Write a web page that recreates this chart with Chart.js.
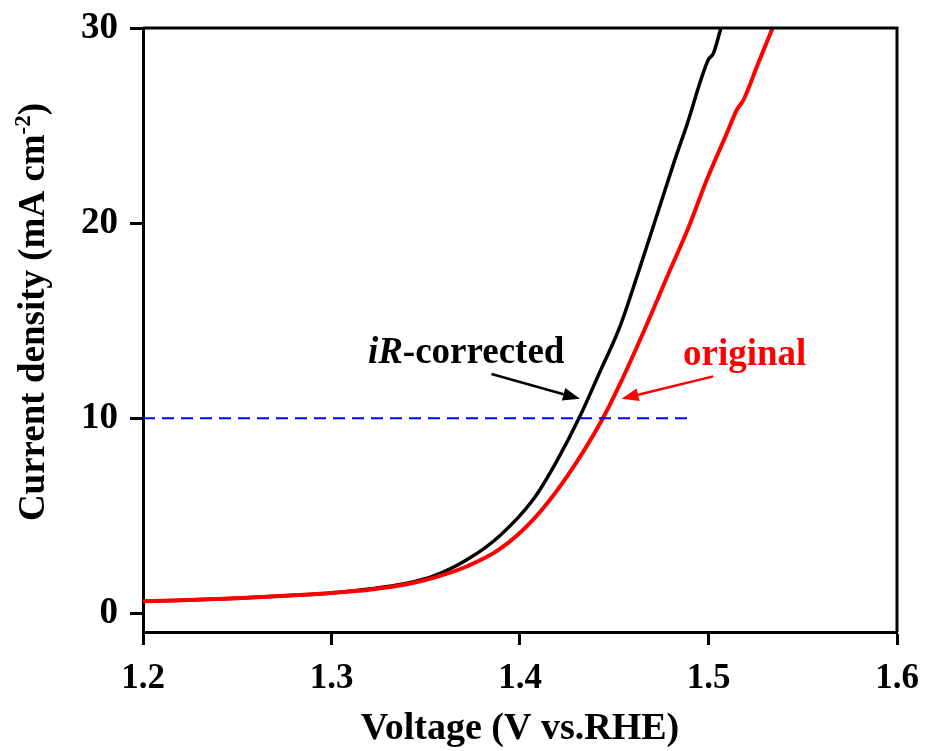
<!DOCTYPE html>
<html>
<head>
<meta charset="utf-8">
<script src="https://cdn.jsdelivr.net/npm/chart.js@4.4.1/dist/chart.umd.min.js"></script>
<style>
  html, body { margin: 0; padding: 0; background: #fff; }
  canvas { display: block; }
</style>
</head>
<body>
<canvas id="myChart" width="927" height="751"></canvas>
<script>
// iR-corrected curve (black)
const voltageCorrected = [1.2, 1.25, 1.283, 1.30, 1.32, 1.34, 1.354, 1.372, 1.389, 1.407, 1.419, 1.4318, 1.442, 1.453, 1.4625, 1.4707, 1.4813, 1.4884, 1.4999, 1.5026, 1.5066];
const currentCorrected = [0.62, 0.78, 0.94, 1.05, 1.25, 1.55, 1.91, 2.76, 3.96, 5.84, 7.72, 10.1, 12.3, 14.7, 17.4, 19.83, 23.0, 25.0, 28.37, 28.7, 30.0];
// original curve (red)
const voltageOriginal = [1.2, 1.25, 1.283, 1.30, 1.32, 1.34, 1.355, 1.372, 1.389, 1.407, 1.425, 1.4434, 1.453, 1.4654, 1.4796, 1.4893, 1.499, 1.5097, 1.515, 1.5185, 1.526, 1.534];
const currentOriginal = [0.62, 0.78, 0.94, 1.05, 1.22, 1.5, 1.85, 2.42, 3.28, 4.81, 7.03, 9.9, 11.75, 14.4, 17.6, 19.75, 22.2, 24.6, 25.8, 26.3, 28.1, 30.0];
// 10 mA cm-2 reference line
const refVoltage = [1.2, 1.49];
const refCurrent = [10, 10];

const xTicks = [1.2, 1.3, 1.4, 1.5, 1.6];
const yTicks = [0, 10, 20, 30];

const toPoints = (xs, ys) => xs.map((x, i) => ({ x: x, y: ys[i] }));

const FONT = "'Liberation Serif', 'Times New Roman', serif";

function arrow(ctx, x1, y1, x2, y2, color) {
  const ang = Math.atan2(y2 - y1, x2 - x1);
  const head = 17, half = 6.5;
  ctx.save();
  ctx.strokeStyle = color;
  ctx.fillStyle = color;
  ctx.lineWidth = 2.5;
  ctx.beginPath();
  ctx.moveTo(x1, y1);
  ctx.lineTo(x2 - head * Math.cos(ang), y2 - head * Math.sin(ang));
  ctx.stroke();
  ctx.beginPath();
  ctx.moveTo(x2, y2);
  ctx.lineTo(x2 - head * Math.cos(ang) + half * Math.sin(ang), y2 - head * Math.sin(ang) - half * Math.cos(ang));
  ctx.lineTo(x2 - head * Math.cos(ang) - half * Math.sin(ang), y2 - head * Math.sin(ang) + half * Math.cos(ang));
  ctx.closePath();
  ctx.fill();
  ctx.restore();
}

const decor = {
  id: "decor",
  afterDatasetsDraw(chart) {
    const ctx = chart.ctx;
    const a = chart.chartArea;
    const xs = chart.scales.x, ys = chart.scales.y;
    // frame top and right
    ctx.save();
    ctx.strokeStyle = "#000";
    ctx.lineWidth = 3;
    ctx.beginPath();
    ctx.moveTo(a.left, a.top);
    ctx.lineTo(a.right, a.top);
    ctx.lineTo(a.right, a.bottom);
    ctx.stroke();
    ctx.restore();

    // annotations
    ctx.save();
    ctx.textBaseline = "alphabetic";
    ctx.textAlign = "left";
    const tx = xs.getPixelForValue(1.3193), ty = ys.getPixelForValue(12.85);
    ctx.fillStyle = "#000";
    ctx.font = "italic bold 37px " + FONT;
    ctx.fillText("iR", tx, ty);
    const w = ctx.measureText("iR").width;
    ctx.font = "bold 37px " + FONT;
    ctx.fillText("-corrected", tx + w, ty);
    ctx.fillStyle = "#ff0000";
    ctx.fillText("original", xs.getPixelForValue(1.4865), ys.getPixelForValue(12.75));
    ctx.restore();

    arrow(ctx, xs.getPixelForValue(1.3849), ys.getPixelForValue(12.27),
               xs.getPixelForValue(1.4318), ys.getPixelForValue(11.0), "#000");
    arrow(ctx, xs.getPixelForValue(1.5025), ys.getPixelForValue(12.15),
               xs.getPixelForValue(1.4539), ys.getPixelForValue(11.0), "#ff0000");
  },
  afterDraw(chart) {
    const ctx = chart.ctx;
    const a = chart.chartArea;
    ctx.save();
    ctx.fillStyle = "#000";
    // x title
    ctx.font = "bold 38px " + FONT;
    ctx.textAlign = "center";
    ctx.textBaseline = "alphabetic";
    ctx.fillText("Voltage (V vs.RHE)", (a.left + a.right) / 2, 739);
    // y title with superscript
    const main = "Current density (mA cm";
    const sup = "-2";
    const end = ")";
    ctx.font = "bold 37px " + FONT;
    const wMain = ctx.measureText(main).width;
    const wEnd = ctx.measureText(end).width;
    ctx.font = "bold 23px " + FONT;
    const wSup = ctx.measureText(sup).width;
    const total = wMain + wSup + wEnd;
    ctx.translate(44, 312);
    ctx.rotate(-Math.PI / 2);
    ctx.textAlign = "left";
    const x0 = -total / 2;
    ctx.font = "bold 37px " + FONT;
    ctx.fillText(main, x0, 0);
    ctx.font = "bold 23px " + FONT;
    ctx.fillText(sup, x0 + wMain, -14);
    ctx.font = "bold 37px " + FONT;
    ctx.fillText(end, x0 + wMain + wSup, 0);
    ctx.restore();
  }
};

new Chart(document.getElementById("myChart"), {
  type: "line",
  data: {
    datasets: [
      {
        label: "ref",
        data: toPoints(refVoltage, refCurrent),
        borderColor: "#0000ff",
        borderWidth: 2,
        borderDash: [12, 7],
        pointRadius: 0,
        order: 0,
      },
      {
        label: "original",
        data: toPoints(voltageOriginal, currentOriginal),
        borderColor: "#ff0000",
        borderWidth: 4,
        pointRadius: 0,
        cubicInterpolationMode: "monotone",
        order: 1,
      },
      {
        label: "iR-corrected",
        data: toPoints(voltageCorrected, currentCorrected),
        borderColor: "#000000",
        borderWidth: 3.5,
        pointRadius: 0,
        cubicInterpolationMode: "monotone",
        order: 2,
      },
    ],
  },
  options: {
    responsive: false,
    animation: false,
    devicePixelRatio: 1,
    layout: { padding: { top: 28, right: 30, left: 0, bottom: 0 } },
    plugins: { legend: { display: false }, tooltip: { enabled: false } },
    scales: {
      x: {
        type: "linear",
        min: 1.2,
        max: 1.6,
        afterBuildTicks: (s) => { s.ticks = xTicks.map((v) => ({ value: v })); },
        afterFit: (s) => { s.height = 119; s.paddingLeft = 0; s.paddingRight = 0; },
        border: { color: "#000", width: 3 },
        grid: { drawOnChartArea: false, drawTicks: true, tickLength: 13, tickWidth: 3, color: "#000" },
        ticks: {
          color: "#000",
          padding: 13,
          maxRotation: 0,
          font: { family: FONT, size: 35, weight: "bold" },
          callback: (v) => Number(v).toFixed(1),
        },
      },
      y: {
        type: "linear",
        min: -0.95,
        max: 30,
        afterBuildTicks: (s) => { s.ticks = yTicks.map((v) => ({ value: v })); },
        afterFit: (s) => { s.width = 143; s.paddingTop = 0; s.paddingBottom = 0; },
        border: { color: "#000", width: 3 },
        grid: { drawOnChartArea: false, drawTicks: true, tickLength: 13, tickWidth: 3, color: "#000" },
        ticks: {
          color: "#000",
          padding: 12,
          font: { family: FONT, size: 37, weight: "bold" },
          callback: (v) => String(v),
        },
      },
    },
  },
  plugins: [decor],
});
</script>
</body>
</html>
